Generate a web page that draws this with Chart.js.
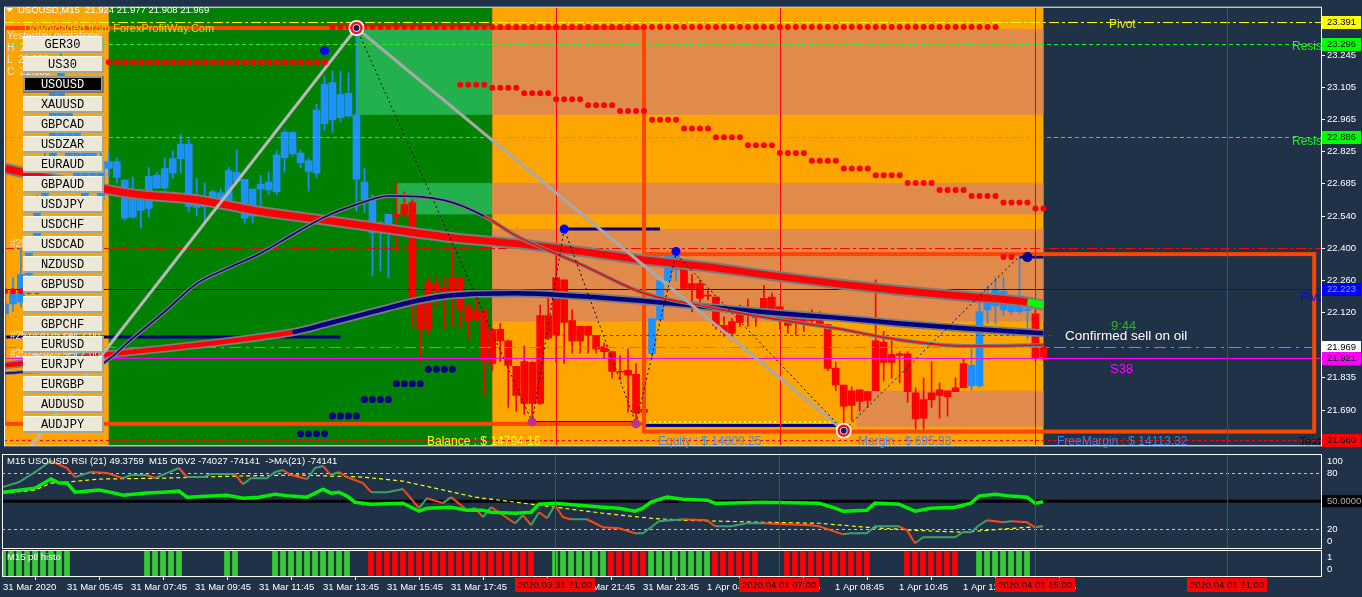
<!DOCTYPE html>
<html>
<head>
<meta charset="utf-8">
<title>USOUSD,M15</title>
<script src="https://cdn.jsdelivr.net/npm/chart.js@4.4.1/dist/chart.umd.min.js"></script>
<style>
  html, body { margin: 0; padding: 0; background: #1f3248; }
  #wrap { position: relative; width: 1362px; height: 597px; overflow: hidden; }
  #wrap canvas { position: absolute; left: 0; }
</style>
</head>
<body>
<div id="wrap">
  <canvas id="main" width="1362" height="453" style="top:0"></canvas>
  <canvas id="osc" width="1362" height="96" style="top:453px"></canvas>
  <canvas id="histo" width="1362" height="48" style="top:549px"></canvas>
</div>
<script>
// USOUSD M15, bar 0 = 31 Mar 2020 03:45, one bar per 15 min
const open = [22.114,22.157,22.165,22.285,22.421,22.592,22.784,22.869,22.998,22.912,
  22.827,22.827,22.784,22.750,22.712,22.699,22.537,22.566,22.575,22.665,
  22.665,22.729,22.793,22.857,22.596,22.584,22.584,22.643,22.601,22.733,
  22.703,22.541,22.660,22.690,22.648,22.797,22.908,22.818,22.784,22.729,
  22.946,23.126,22.972,23.079,22.985,22.690,22.618,22.473,22.477,22.549,
  22.592,22.601,22.161,22.251,22.246,22.229,22.272,22.272,22.144,22.127,
  22.127,22.046,22.046,21.995,21.884,21.905,21.901,22.106,22.106,22.272,
  22.263,22.084,22.059,22.059,22.020,21.969,21.948,21.862,21.866,21.849,
  21.696,21.939,22.088,22.259,22.306,22.345,22.246,22.246,22.195,22.187,
  22.063,22.080,22.140,22.135,22.127,22.182,22.187,22.144,22.093,22.093,
  22.101,22.097,22.088,22.067,21.875,21.802,21.777,21.781,21.773,21.995,
  21.990,21.935,21.939,21.939,21.768,21.738,21.768,21.781,21.777,21.790,
  21.896,21.798,21.798,22.131,22.148,22.131,22.123,22.123,22.127,22.114,
  21.924];
const high = [22.229,22.272,22.400,22.443,22.635,22.827,23.126,23.275,23.040,22.955,
  22.869,22.869,22.827,22.827,22.797,22.699,22.712,22.660,22.754,22.733,
  22.797,22.827,22.899,22.878,22.707,22.686,22.656,22.660,22.754,22.831,
  22.703,22.660,22.720,22.733,22.827,22.916,22.912,22.831,22.793,23.032,
  23.155,23.177,23.177,23.168,23.352,22.750,22.635,22.519,22.549,22.686,
  22.648,22.613,22.187,22.272,22.272,22.272,22.400,22.272,22.157,22.216,
  22.135,22.050,22.071,22.000,21.884,21.973,21.905,22.152,22.187,22.387,
  22.263,22.131,22.059,22.059,22.020,21.986,21.948,21.931,21.960,21.896,
  21.700,22.093,22.259,22.387,22.391,22.349,22.285,22.263,22.216,22.187,
  22.101,22.093,22.152,22.178,22.127,22.238,22.204,22.144,22.114,22.114,
  22.114,22.131,22.123,22.067,21.901,21.802,21.794,21.781,21.773,22.263,
  22.037,21.995,21.948,21.948,21.790,21.832,21.905,21.811,21.777,21.832,
  21.914,21.960,22.174,22.234,22.272,22.272,22.187,22.357,22.187,22.131,
  21.977];
const low = [22.059,22.123,22.144,22.272,22.400,22.571,22.763,22.827,22.763,22.656,
  22.592,22.699,22.592,22.712,22.686,22.524,22.532,22.490,22.537,22.660,
  22.656,22.707,22.729,22.562,22.541,22.515,22.579,22.579,22.579,22.686,
  22.511,22.511,22.562,22.635,22.635,22.733,22.805,22.754,22.652,22.712,
  22.916,22.908,22.955,22.976,22.562,22.558,22.281,22.302,22.272,22.387,
  22.541,22.059,21.901,22.024,22.144,22.046,22.059,22.050,22.003,22.080,
  21.760,21.866,21.905,21.704,21.687,21.674,21.653,21.717,22.000,21.901,
  21.896,21.943,21.943,21.943,21.943,21.918,21.832,21.824,21.683,21.640,
  21.670,21.918,22.088,22.259,22.259,22.225,22.123,22.144,22.174,22.046,
  22.016,22.007,22.059,22.059,22.059,22.106,22.110,22.046,22.029,22.020,
  22.037,22.067,22.063,21.866,21.777,21.623,21.645,21.687,21.704,21.777,
  21.820,21.832,21.811,21.726,21.610,21.610,21.704,21.657,21.666,21.773,
  21.790,21.781,21.790,22.071,22.071,22.106,22.110,22.114,22.003,21.910,
  21.908];
const close = [22.157,22.204,22.285,22.421,22.613,22.784,23.083,23.190,22.784,22.699,
  22.613,22.720,22.613,22.780,22.780,22.532,22.656,22.652,22.716,22.720,
  22.750,22.793,22.857,22.584,22.579,22.596,22.648,22.601,22.741,22.694,
  22.532,22.660,22.682,22.656,22.810,22.908,22.814,22.776,22.737,23.006,
  23.117,22.963,23.074,22.980,22.703,22.613,22.468,22.468,22.549,22.541,
  22.549,22.152,22.046,22.046,22.216,22.178,22.187,22.135,22.080,22.088,
  21.905,21.896,21.995,21.888,21.756,21.721,21.721,21.721,22.007,22.020,
  22.076,21.995,21.995,22.020,21.960,21.948,21.862,21.858,21.845,21.679,
  21.683,22.093,22.259,22.366,22.366,22.225,22.225,22.182,22.191,22.063,
  22.033,22.029,22.076,22.118,22.097,22.106,22.135,22.093,22.063,22.071,
  22.080,22.084,22.063,21.875,21.802,21.709,21.713,21.730,21.734,21.777,
  21.901,21.901,21.931,21.773,21.653,21.657,21.738,21.756,21.751,21.773,
  21.790,21.888,22.123,22.161,22.216,22.212,22.174,22.174,22.135,21.918,
  21.969];
// bars painted in the "up" colour (trend filter)
const upRuns = [[0, 48], [81, 84], [121, 128]];

// moving averages, read every few bars
const maSlowBars = [0,8,16,24,32,40,48,56,64,72,80,88,96,104,112,120,128,130];
const maSlow = [22.750,22.690,22.639,22.613,22.562,22.524,22.485,22.447,22.421,22.387,22.349,22.319,22.281,22.246,22.216,22.191,22.165,22.152];
const maMidBars = [0,8,16,24,32,36,40,48,52,56,64,72,80,88,96,104,112,120,128,130];
const maMid = [21.888,21.918,21.948,21.977,22.012,22.033,22.067,22.140,22.174,22.195,22.204,22.191,22.170,22.144,22.118,22.097,22.071,22.050,22.033,22.029];
const maFastBars = [0,8,12,16,20,24,28,32,36,40,44,48,52,56,60,64,68,72,80,88,96,104,112,120,130];
const maFast = [21.854,21.871,21.892,22.007,22.123,22.246,22.315,22.379,22.460,22.537,22.592,22.630,22.626,22.601,22.541,22.455,22.391,22.332,22.204,22.144,22.093,22.050,21.999,21.973,21.977];

// stop dots: groups of four bars
const sarStart = 57;
const sarLevels = [23.117,23.104,23.079,23.053,23.027,23.002,22.963,22.925,22.887,22.852,22.818,22.784,22.750,22.720,22.686,22.656,22.630,22.601,22.575];
const supStart = 37;
const supLevels = [21.589,21.666,21.738,21.807,21.871];
const dotRows = [[0, 4, 22.212], [13, 40, 23.215], [41, 124, 23.369], [125, 126, 22.362]];

// zigzag swings
const zzBars = [44, 66, 70, 79, 84, 105, 127];
const zzPrices = [23.365, 21.640, 22.485, 21.632, 22.375, 21.602, 22.366];
const trendBars = [0, 44];
const trendPrices = [21.389, 23.365];

// sub window: RSI(21), OBV2 and its MA(21)
const rsiBars = [0,4,6,7,8,9,12,14,15,18,20,22,23,26,28,30,32,34,36,38,40,41,42,43,44,46,50,52,53,56,58,60,61,64,66,67,69,72,75,77,79,80,81,83,85,88,89,90,95,102,104,105,108,109,112,114,116,119,121,122,124,126,128,129,130];
const rsi = [59.6,63.9,73.6,69.3,69.3,59.6,61.8,58.6,56.4,58.6,59.6,60.7,54.3,55.4,56.4,53.2,54.3,57.5,55.4,54.3,62.9,58.6,59.6,55.4,48.9,46.8,47.9,39.3,42.5,43.6,40.4,40.4,38.2,37.1,38.2,46.8,47.9,45.7,43.6,42.5,39.3,42.5,48.9,54.3,52.1,51.1,47.9,47.9,48.9,47.9,42.5,39.3,40.4,47.9,46.8,39.3,42.5,43.6,47.9,55.4,57.5,55.4,54.3,47.9,49.4];
const obvBars = [0,2,4,6,8,9,11,13,15,16,18,19,22,23,25,26,29,30,31,33,34,35,36,38,39,40,41,42,43,45,46,48,50,52,53,55,56,58,59,60,61,64,65,66,67,68,69,70,71,73,75,77,79,80,81,82,85,88,89,91,93,95,101,102,105,106,108,109,112,113,114,115,119,120,121,122,123,125,126,128,129,130];
const obv = [65.0,70.4,81.1,92.9,85.4,75.7,81.1,80.0,74.6,77.9,77.9,74.6,85.4,75.7,75.7,78.9,78.9,68.2,74.6,74.6,81.1,83.2,77.9,73.6,85.4,87.5,77.9,81.1,75.7,69.3,59.6,59.6,62.9,42.5,53.2,47.9,54.3,40.4,42.5,32.9,43.6,26.4,35.0,24.3,38.2,31.8,45.7,32.9,30.7,30.7,22.1,21.1,15.7,15.7,22.1,28.6,30.7,29.6,23.2,23.2,26.4,26.4,24.3,23.2,14.6,15.7,15.7,23.2,23.2,18.9,5.0,11.4,11.4,16.8,16.8,24.3,29.6,27.5,28.6,27.5,22.1,23.2];
const obvMaBars = [0,4,6,8,12,20,29,37,45,50,54,59,65,70,75,81,85,95,102,108,114,120,123,128,130];
const obvMa = [58.6,61.8,69.3,70.4,73.6,74.6,76.8,77.9,75.7,71.4,63.9,54.3,47.9,42.5,37.1,31.8,29.6,27.5,26.4,22.1,18.9,16.8,18.9,22.1,23.2];

// ptl histo: [fromBar, toBar, 1 = up / -1 = down]
const histoRuns = [[0,8,1],[18,22,1],[28,29,1],[34,43,1],[46,66,-1],[69,75,1],[76,80,-1],[81,88,1],[89,94,-1],[98,108,-1],[113,119,-1],[122,128,1]];

const timeLabels = ['31 Mar 2020','31 Mar 05:45','31 Mar 07:45','31 Mar 09:45','31 Mar 11:45','31 Mar 13:45','31 Mar 15:45','31 Mar 17:45','31 Mar 19:45','31 Mar 21:45','31 Mar 23:45','1 Apr 04:45','1 Apr 06:45','1 Apr 08:45','1 Apr 10:45','1 Apr 12:45','1 Apr 14:45'];
const markedTimes = [[69, '2020.03.31 21:00'], [97, '2020.04.01 07:00'], [129, '2020.04.01 15:00'], [153, '2020.04.01 21:00']];
const priceTicks = [23.245,23.105,22.965,22.825,22.685,22.540,22.400,22.260,22.120,21.980,21.835,21.690];
const priceTags = [[23.391,'#ffff00','#000'],[23.296,'#00ff00','#000'],[22.886,'#00ff00','#000'],[22.223,'#0000f0','#6aa8ff'],[21.969,'#ffffff','#000'],[21.921,'#ff00ff','#000'],[21.560,'#ff0000','#000']];
const levels = [ // price, colour, dash, fromBar, toBar
  [23.391,'#ffff00',[10,3,3,3]],[23.296,'#22ee22',[4,3]],[22.886,'#22ee22',[4,3]],
  [22.400,'#ff0000',[10,3,3,3]],[22.223,'#0000ff',[]],[22.020,'#ff0000',[3,3],69,131],
  [21.969,'#32c832',[12,5,3,5]],[21.921,'#ff00ff',[]],[21.560,'#ff0000',[3,3]]
];
const navyLines = [[0,42,22.012,3],[70,82,22.485,3],[66,79,21.640,2],[80,104,21.625,3],[127,130,22.362,3]];
const timeZones = [[-2,13,'#ffa500'],[13,61,'#008000'],[61,130,'#ffa500']];
const priceZones = [[44,130,23.360,22.985],[49,130,22.686,22.549],[61,130,22.485,22.080],[106.6,130,21.777,21.619]];
const frames = [[-0.1,80,23.365,21.632],[80,163.9,22.375,21.598]];
const symbols = ['GER30','US30','USOUSD','XAUUSD','GBPCAD','USDZAR','EURAUD','GBPAUD','USDJPY','USDCHF','USDCAD','NZDUSD','GBPUSD','GBPJPY','GBPCHF','EURUSD','EURJPY','EURGBP','AUDUSD','AUDJPY'];

const BG = '#1f3248';
const X_MIN = -0.125, X_MAX = 164.75;
const FONT = "'Liberation Sans', Arial, sans-serif";
Chart.defaults.font.family = FONT;
Chart.defaults.animation = false;
Chart.defaults.plugins.legend.display = false;
Chart.defaults.plugins.tooltip.enabled = false;

const pts = (xs, ys) => xs.map((x, k) => ({x: x, y: ys[k]}));
const bars = open.map((_, i) => i);
const isUp = i => upRuns.some(r => i >= r[0] && i <= r[1]);
const candleCol = bars.map(i => isUp(i) ? '#1e90ff' : '#ff0000');
const sarPts = [], supPts = [], rowPts = [];
sarLevels.forEach((v, g) => { for (let k = 0; k < 4; k++) { const i = sarStart + g * 4 + k; if (i < open.length) sarPts.push({x: i, y: v}); } });
supLevels.forEach((v, g) => { for (let k = 0; k < 4; k++) supPts.push({x: supStart + g * 4 + k, y: v}); });
dotRows.forEach(r => { for (let i = r[0]; i <= r[1]; i++) rowPts.push({x: i, y: r[2]}); });

function txt(ctx, s, x, y, col, size, align) {
  ctx.font = size + 'px ' + FONT;
  ctx.fillStyle = col;
  ctx.textAlign = align || 'left';
  ctx.textBaseline = 'middle';
  ctx.fillText(s, x, y);
}
function clipArea(chart, fn) {
  const {ctx, chartArea: a} = chart;
  ctx.save();
  ctx.beginPath();
  ctx.rect(a.left, a.top, a.right - a.left, a.bottom - a.top);
  ctx.clip();
  fn(ctx, a);
  ctx.restore();
}
function frameOf(chart) {
  const {ctx, chartArea: a} = chart;
  ctx.save();
  ctx.strokeStyle = '#ffffff';
  ctx.lineWidth = 1;
  ctx.strokeRect(a.left + 0.5, a.top - 0.5, a.right - a.left, a.bottom - a.top + 1);
  ctx.restore();
}
function vlines(chart) {
  clipArea(chart, (ctx, a) => {
    ctx.strokeStyle = '#ff0000';
    ctx.lineWidth = 1;
    markedTimes.forEach(m => {
      const x = Math.round(chart.scales.x.getPixelForValue(m[0])) + 0.5;
      ctx.beginPath(); ctx.moveTo(x, a.top); ctx.lineTo(x, a.bottom); ctx.stroke();
    });
  });
}
const fillBg = {id: 'fillBg', beforeDraw(chart) {
  const c = chart.ctx; c.save(); c.fillStyle = BG; c.fillRect(0, 0, chart.width, chart.height); c.restore();
}};

const mainDeco = {
  id: 'mainDeco',
  beforeDatasetsDraw(chart) {
    const X = v => chart.scales.x.getPixelForValue(v), Y = v => chart.scales.y.getPixelForValue(v);
    clipArea(chart, (ctx, a) => {
      timeZones.forEach(z => { ctx.fillStyle = z[2]; ctx.fillRect(X(z[0]), a.top, X(z[1]) - X(z[0]), a.bottom - a.top); });
      const gEnd = timeZones[1][1];
      priceZones.forEach(z => {
        const y1 = Y(z[2]), y2 = Y(z[3]);
        if (z[0] < gEnd) { ctx.fillStyle = '#22b14c'; ctx.fillRect(X(z[0]), y1, X(gEnd) - X(z[0]), y2 - y1); }
        const s = Math.max(z[0], gEnd);
        ctx.fillStyle = '#e08b4c'; ctx.fillRect(X(s), y1, X(z[1]) - X(s), y2 - y1);
      });
    });
  },
  afterDatasetDraw(chart, args) {
    if (args.index !== 1) return;
    const X = v => chart.scales.x.getPixelForValue(v), Y = v => chart.scales.y.getPixelForValue(v);
    clipArea(chart, (ctx, a) => {
      levels.forEach(l => {
        const y = Math.round(Y(l[0])) + 0.5;
        ctx.strokeStyle = l[1]; ctx.lineWidth = 1; ctx.setLineDash(l[2]);
        ctx.beginPath();
        ctx.moveTo(l[3] !== undefined ? X(l[3]) : a.left, y);
        ctx.lineTo(l[4] !== undefined ? X(l[4]) : a.right, y);
        ctx.stroke();
      });
      ctx.setLineDash([]);
      navyLines.forEach(l => {
        ctx.strokeStyle = '#000080'; ctx.lineWidth = l[3];
        ctx.beginPath(); ctx.moveTo(X(l[0]), Y(l[2])); ctx.lineTo(X(l[1]), Y(l[2])); ctx.stroke();
      });
      ctx.strokeStyle = '#ffff00'; ctx.lineWidth = 2; ctx.setLineDash([2, 3]);
      ctx.beginPath(); ctx.moveTo(X(80), Y(21.640)); ctx.lineTo(X(104), Y(21.640)); ctx.stroke();
      ctx.setLineDash([]);
      ctx.strokeStyle = '#ff4500'; ctx.lineWidth = 4;
      frames.forEach(f => { ctx.strokeRect(X(f[0]), Y(f[2]), X(f[1]) - X(f[0]), Y(f[3]) - Y(f[2])); });
    });
    vlines(chart);
  },
  afterDatasetsDraw(chart) {
    const X = v => chart.scales.x.getPixelForValue(v), Y = v => chart.scales.y.getPixelForValue(v);
    const ctx = chart.ctx;
    const dot = (i, v, r, c) => { ctx.fillStyle = c; ctx.beginPath(); ctx.arc(X(i), Y(v), r, 0, Math.PI * 2); ctx.fill(); };
    [[44, 23.365], [105, 21.602]].forEach(p => {
      dot(p[0], p[1], 8, '#ffffff');
      ctx.strokeStyle = '#ff1010'; ctx.lineWidth = 2.5;
      ctx.beginPath(); ctx.arc(X(p[0]), Y(p[1]), 5, 0, Math.PI * 2); ctx.stroke();
      dot(p[0], p[1], 3, '#1a1a60');
    });
    [[40, 23.266], [70, 22.485], [84, 22.387]].forEach(p => dot(p[0], p[1], 4.5, '#0000ff'));
    [[66, 21.640], [79, 21.632]].forEach(p => dot(p[0], p[1], 4.5, '#c03090'));
    dot(128, 22.362, 5, '#000090');
  },
  afterDraw(chart) {
    const ctx = chart.ctx, a = chart.chartArea;
    const Y = v => chart.scales.y.getPixelForValue(v);
    frameOf(chart);
    // title
    ctx.fillStyle = '#ffffff';
    ctx.beginPath(); ctx.moveTo(6, 8); ctx.lineTo(13, 8); ctx.lineTo(9.5, 12); ctx.closePath(); ctx.fill();
    txt(ctx, 'USOUSD,M15  21.924 21.977 21.908 21.969', 18, 10, '#ffffff', 9.5);
    txt(ctx, 'Downloaded from ForexProfitWay.Com', 24, 29, '#dede00', 11);
    txt(ctx, 'Yesterday quotations:', 7, 36, '#e8e8e8', 10);
    txt(ctx, 'H  23.353', 7, 48, '#e8e8e8', 10);
    txt(ctx, 'L  21.622', 7, 60, '#e8e8e8', 10);
    txt(ctx, 'C  21.689', 7, 72, '#e8e8e8', 10);
    txt(ctx, '#25742025 sell 2.00', 10, 244, '#e8e8e8', 10);
    txt(ctx, '#25742025 sell 2.00', 10, 336, '#e8e8e8', 10);
    txt(ctx, '#25742025 sell 2.00', 10, 354, '#e8e8e8', 10);
    // symbol buttons
    symbols.forEach((s, k) => {
      const x = 23, y = 36 + 20 * k, w = 81, h = 17, on = s === 'USOUSD';
      ctx.fillStyle = on ? '#7a7a7a' : '#a9a594'; ctx.fillRect(x, y, w, h);
      ctx.fillStyle = on ? '#9a9a9a' : '#ffffff'; ctx.fillRect(x, y, w - 2, h - 2);
      ctx.fillStyle = on ? '#000000' : '#ece9d8';
      if (on) ctx.fillRect(x + 2, y + 2, w - 5, h - 5); else ctx.fillRect(x + 1, y + 1, w - 3, h - 3);
      ctx.font = "12px 'Liberation Mono', 'Courier New', monospace";
      ctx.fillStyle = on ? '#ffffff' : '#000000';
      ctx.textAlign = 'center'; ctx.textBaseline = 'middle';
      ctx.fillText(s, x + w / 2 - 1, y + h / 2);
    });
    // account + notes
    txt(ctx, 'Balance : $ 14794.16', 427, 442, '#ffff00', 12);
    txt(ctx, 'Equity : $ 14809.25', 658, 442, '#4a86d8', 12);
    txt(ctx, 'Margin : $ 695.93', 858, 442, '#4a86d8', 12);
    txt(ctx, 'FreeMargin : $ 14113.32', 1057, 442, '#3a82ea', 12);
    txt(ctx, 'Pivot', 1109, 25, '#e6e600', 12);
    txt(ctx, '9:44', 1111, 326, '#30b030', 13);
    txt(ctx, 'Confirmed sell on oil', 1065, 336, '#ffffff', 13.5);
    txt(ctx, 'S38', 1110, 369, '#ff00ff', 13);
    clipArea(chart, () => {
      txt(ctx, 'Resist', 1292, 47, '#22ee22', 12);
      txt(ctx, 'Resist', 1292, 142, '#22ee22', 12);
      txt(ctx, 'Pivot', 1300, 298, '#0000ff', 12);
      txt(ctx, 'Text', 1299, 443, '#101010', 12);
    });
    // coloured price tags on the axis
    priceTags.forEach(t => {
      const y = Math.round(Y(t[0]));
      ctx.fillStyle = t[1]; ctx.fillRect(a.right + 1, y - 6, 39, 13);
      txt(ctx, t[0].toFixed(3), a.right + 6, y + 0.5, t[2], 9.5);
    });
  }
};

new Chart(document.getElementById('main'), {
  type: 'bar',
  data: {
    datasets: [
      {type: 'bar', data: bars.map(i => ({x: i, y: [low[i], high[i]]})), backgroundColor: candleCol, barThickness: 1, grouped: false, order: 11},
      {type: 'bar', data: bars.map(i => ({x: i, y: [Math.min(open[i], close[i]), Math.max(open[i], close[i])]})), backgroundColor: candleCol, barThickness: 7, minBarLength: 1, grouped: false, order: 10},
      {type: 'line', data: pts(maSlowBars, maSlow), borderColor: '#7c7c7c', borderWidth: 11, pointRadius: 0, cubicInterpolationMode: 'monotone', order: 8},
      {type: 'line', data: pts(maSlowBars, maSlow), borderColor: '#ff0000', borderWidth: 7, pointRadius: 0, cubicInterpolationMode: 'monotone', order: 7,
        segment: {borderColor: c => c.p0.parsed.x >= 128 ? '#00ff00' : '#ff0000'}},
      {type: 'line', data: pts(maMidBars, maMid), borderColor: '#7c7c7c', borderWidth: 8, pointRadius: 0, cubicInterpolationMode: 'monotone', order: 8},
      {type: 'line', data: pts(maMidBars, maMid), borderColor: '#000080', borderWidth: 4.5, pointRadius: 0, cubicInterpolationMode: 'monotone', order: 7,
        segment: {borderColor: c => c.p0.parsed.x < 36 ? '#ff0000' : '#000080'}},
      {type: 'line', data: pts(maFastBars, maFast), borderColor: '#7c7c7c', borderWidth: 4, pointRadius: 0, cubicInterpolationMode: 'monotone', order: 6},
      {type: 'line', data: pts(maFastBars, maFast), borderColor: '#000080', borderWidth: 1.5, pointRadius: 0, cubicInterpolationMode: 'monotone', order: 5,
        segment: {borderColor: c => c.p0.parsed.x >= 60 ? '#ff0000' : '#000080'}},
      {type: 'line', data: pts(trendBars, trendPrices), borderColor: '#b8b8b8', borderWidth: 3, pointRadius: 0, order: 4},
      {type: 'line', data: pts(trendBars, trendPrices), borderColor: '#303030', borderWidth: 1, borderDash: [3, 3], pointRadius: 0, order: 4},
      {type: 'line', data: pts([zzBars[0], zzBars[5]], [zzPrices[0], zzPrices[5]]), borderColor: '#a9a9a9', borderWidth: 3, pointRadius: 0, order: 4},
      {type: 'line', data: pts(zzBars, zzPrices), borderColor: '#000000', borderWidth: 1, borderDash: [2, 3], pointRadius: 0, order: 3},
      {type: 'line', data: sarPts, showLine: false, pointRadius: 3, pointBorderWidth: 0, pointBackgroundColor: '#ff0000', order: 2},
      {type: 'line', data: rowPts, showLine: false, pointRadius: 3, pointBorderWidth: 0, pointBackgroundColor: '#ff0000', order: 2},
      {type: 'line', data: supPts, showLine: false, pointRadius: 3.5, pointBorderWidth: 0, pointBackgroundColor: '#000080', order: 2}
    ]
  },
  options: {
    responsive: false, devicePixelRatio: 1,
    layout: {padding: {left: 2, top: 3, bottom: 1, right: 0}},
    scales: {
      x: {type: 'linear', min: X_MIN, max: X_MAX, display: false, offset: false},
      y: {
        position: 'right', min: 21.538, max: 23.454,
        afterFit: s => { s.width = 41; },
        afterBuildTicks: s => { s.ticks = priceTicks.map(v => ({value: v})); },
        ticks: {color: '#ffffff', padding: 2, font: {size: 9.5}, callback: v => Number(v).toFixed(3)},
        grid: {drawOnChartArea: false, color: '#ffffff', tickLength: 4},
        border: {display: false}
      }
    }
  },
  plugins: [fillBg, mainDeco]
});

const oscDeco = {
  id: 'oscDeco',
  beforeDatasetsDraw(chart) {
    const Y = v => chart.scales.y.getPixelForValue(v);
    clipArea(chart, (ctx, a) => {
      ctx.strokeStyle = '#c8c8c8'; ctx.lineWidth = 1; ctx.setLineDash([3, 3]);
      [80, 20].forEach(v => { const y = Math.round(Y(v)) + 0.5; ctx.beginPath(); ctx.moveTo(a.left, y); ctx.lineTo(a.right, y); ctx.stroke(); });
      ctx.setLineDash([]);
      ctx.strokeStyle = '#000000'; ctx.lineWidth = 3;
      ctx.beginPath(); ctx.moveTo(a.left, Y(50)); ctx.lineTo(a.right, Y(50)); ctx.stroke();
    });
  },
  afterDatasetsDraw(chart) { vlines(chart); },
  afterDraw(chart) {
    const ctx = chart.ctx, a = chart.chartArea, Y = v => chart.scales.y.getPixelForValue(v);
    frameOf(chart);
    txt(ctx, 'M15 USOUSD RSI (21) 49.3759  M15 OBV2 -74027 -74141  ->MA(21) -74141', 7, 8, '#ffffff', 9.5);
    txt(ctx, '100', a.right + 6, Math.max(Y(100), a.top + 6), '#ffffff', 9.5);
    txt(ctx, '80', a.right + 6, Y(80), '#ffffff', 9.5);
    txt(ctx, '20', a.right + 6, Y(20), '#ffffff', 9.5);
    txt(ctx, '0', a.right + 6, Math.min(Y(0), a.bottom - 7), '#ffffff', 9.5);
    ctx.fillStyle = '#000000'; ctx.fillRect(a.right + 1, Y(50) - 6, 41, 12);
    txt(ctx, '50.0000', a.right + 6, Y(50), '#b0b0b0', 9.5);
  }
};

new Chart(document.getElementById('osc'), {
  type: 'line',
  data: {
    datasets: [
      {data: pts(obvMaBars, obvMa), borderColor: '#ffff00', borderWidth: 1.2, borderDash: [4, 3], pointRadius: 0, order: 3},
      {data: pts(obvBars, obv), borderColor: '#ff4a12', borderWidth: 2, pointRadius: 0, order: 2,
        segment: {borderColor: c => c.p1.parsed.y >= c.p0.parsed.y ? '#3f9e70' : '#ff4a12'}},
      {data: pts(rsiBars, rsi), borderColor: '#00ee00', borderWidth: 3.5, pointRadius: 0, order: 1}
    ]
  },
  options: {
    responsive: false, devicePixelRatio: 1,
    layout: {padding: {left: 2, top: 2, bottom: 1, right: 0}},
    scales: {
      x: {type: 'linear', min: X_MIN, max: X_MAX, display: false, offset: false},
      y: {position: 'right', min: 0, max: 99.3, afterFit: s => { s.width = 41; }, ticks: {display: false}, grid: {display: false}, border: {display: false}}
    }
  },
  plugins: [fillBg, oscDeco]
});

const histoData = [], histoCol = [];
histoRuns.forEach(r => { for (let i = r[0]; i <= r[1]; i++) { histoData.push({x: i, y: 1}); histoCol.push(r[2] > 0 ? '#32cd32' : '#ff0000'); } });

const histoDeco = {
  id: 'histoDeco',
  afterDatasetsDraw(chart) { vlines(chart); },
  afterDraw(chart) {
    const ctx = chart.ctx, a = chart.chartArea;
    frameOf(chart);
    txt(ctx, 'M15 ptl histo', 7, 8, '#ffffff', 9.5);
    txt(ctx, '1', a.right + 6, 8, '#ffffff', 9.5);
    txt(ctx, '0', a.right + 6, 20, '#ffffff', 9.5);
    markedTimes.forEach(m => {
      const x = chart.scales.x.getPixelForValue(m[0]);
      ctx.fillStyle = '#ff0000'; ctx.fillRect(Math.round(x) - 40, a.bottom + 2, 80, 14);
      txt(ctx, m[1], x, a.bottom + 9.5, '#1a0000', 9.5, 'center');
    });
  }
};

new Chart(document.getElementById('histo'), {
  type: 'bar',
  data: {datasets: [{data: histoData, backgroundColor: histoCol, barThickness: 5, grouped: false}]},
  options: {
    responsive: false, devicePixelRatio: 1,
    layout: {padding: {left: 2, top: 2, bottom: 0, right: 0}},
    scales: {
      x: {
        type: 'linear', min: X_MIN, max: X_MAX, offset: false, position: 'bottom',
        afterFit: s => { s.height = 21; },
        afterBuildTicks: s => { s.ticks = timeLabels.map((_, k) => ({value: k * 8})); },
        ticks: {color: '#ffffff', align: 'start', padding: 2, maxRotation: 0, autoSkip: false, font: {size: 9.5},
          callback: (v, k) => timeLabels[k]},
        grid: {drawOnChartArea: false, color: '#ffffff', tickLength: 4},
        border: {display: false}
      },
      y: {position: 'right', min: 0, max: 1, afterFit: s => { s.width = 41; }, ticks: {display: false}, grid: {display: false}, border: {display: false}}
    }
  },
  plugins: [fillBg, histoDeco]
});
</script>
</body>
</html>
